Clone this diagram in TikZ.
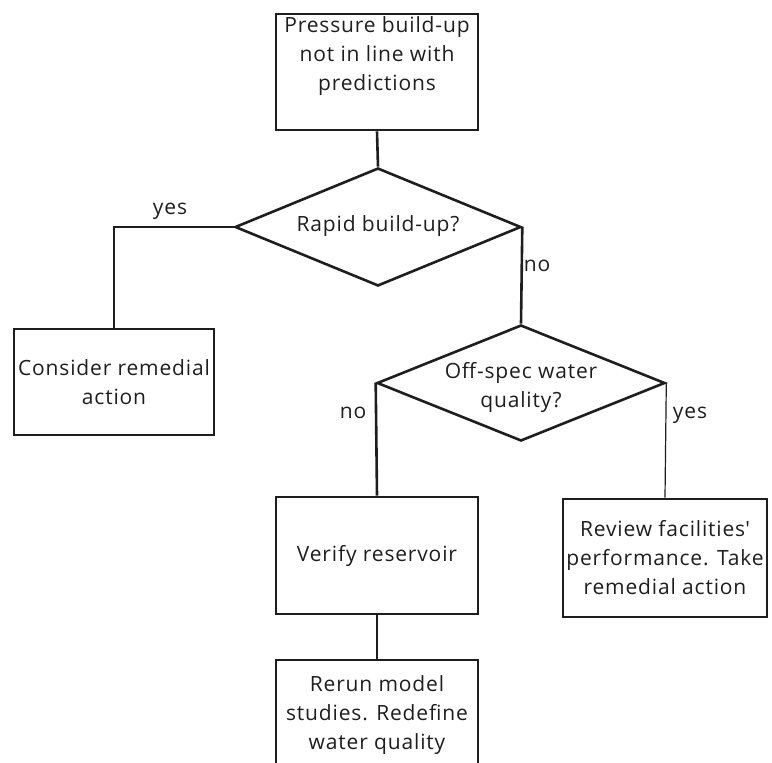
\documentclass[tikz,border=0pt]{standalone}
\usepackage{fontspec}
\setmainfont{Open Sans}[LetterSpace=4]
\usetikzlibrary{shapes.geometric}
\definecolor{ink}{HTML}{1E1E1E}
\begin{document}
\begin{tikzpicture}[x=1pt,y=-1pt,
  every node/.style={font=\fontsize{21}{29}\selectfont, text=ink},
  box/.style={draw=ink, line width=2.6pt, rectangle, inner sep=0pt, align=center, minimum width=202pt},
  decision/.style={draw=ink, line width=2.6pt, diamond, inner sep=0pt, minimum width=286pt, minimum height=118pt},
  link/.style={draw=ink, line width=2.6pt},
  thinlink/.style={draw=ink, line width=1.2pt},
  lbl/.style={inner sep=0pt}]
\useasboundingbox (0,0) rectangle (772,763);
\clip (0,0) rectangle (772,763);
\node[box, minimum height=116pt] (top) at (377,72) {Pressure build-up\\not in line with\\predictions\\\strut};
\node[decision] (d1) at (378,227) {};
\node[lbl] (d1t) at (378,226) {Rapid build-up?};
\node[box, minimum width=200pt, minimum height=106pt] (consider) at (114,382) {Consider remedial\\action};
\node[decision, minimum width=288pt, minimum height=116pt] (d2) at (521,383) {};
\node[lbl, align=center] (d2t) at (521,387) {Off-spec water\\quality?};
\node[box, minimum height=117pt] (verify) at (377,555.5) {Verify reservoir};
\node[box, minimum width=204pt, minimum height=118pt] (review) at (665,558) {Review facilities\textquotesingle\\performance. Take\\remedial action};
\node[box, minimum height=110pt] (rerun) at (377,715) {Rerun model\\studies. Redefine\\water quality};
\node[lbl] (yes1) at (170,211) {yes};
\node[lbl] (no1) at (537,266) {no};
\node[lbl] (no2) at (353,413) {no};
\node[lbl] (yes2) at (690,415) {yes};
\draw[link] (top.south) -- (d1.north);
\draw[link] (d1.west) -| (consider.north);
\draw[link] (d1.east) -- (d2.north);
\draw[link] (d2.west) -- (verify.north);
\draw[thinlink] (d2.east) -- (review.north);
\draw[link] (verify.south) -- (rerun.north);
\end{tikzpicture}
\end{document}
